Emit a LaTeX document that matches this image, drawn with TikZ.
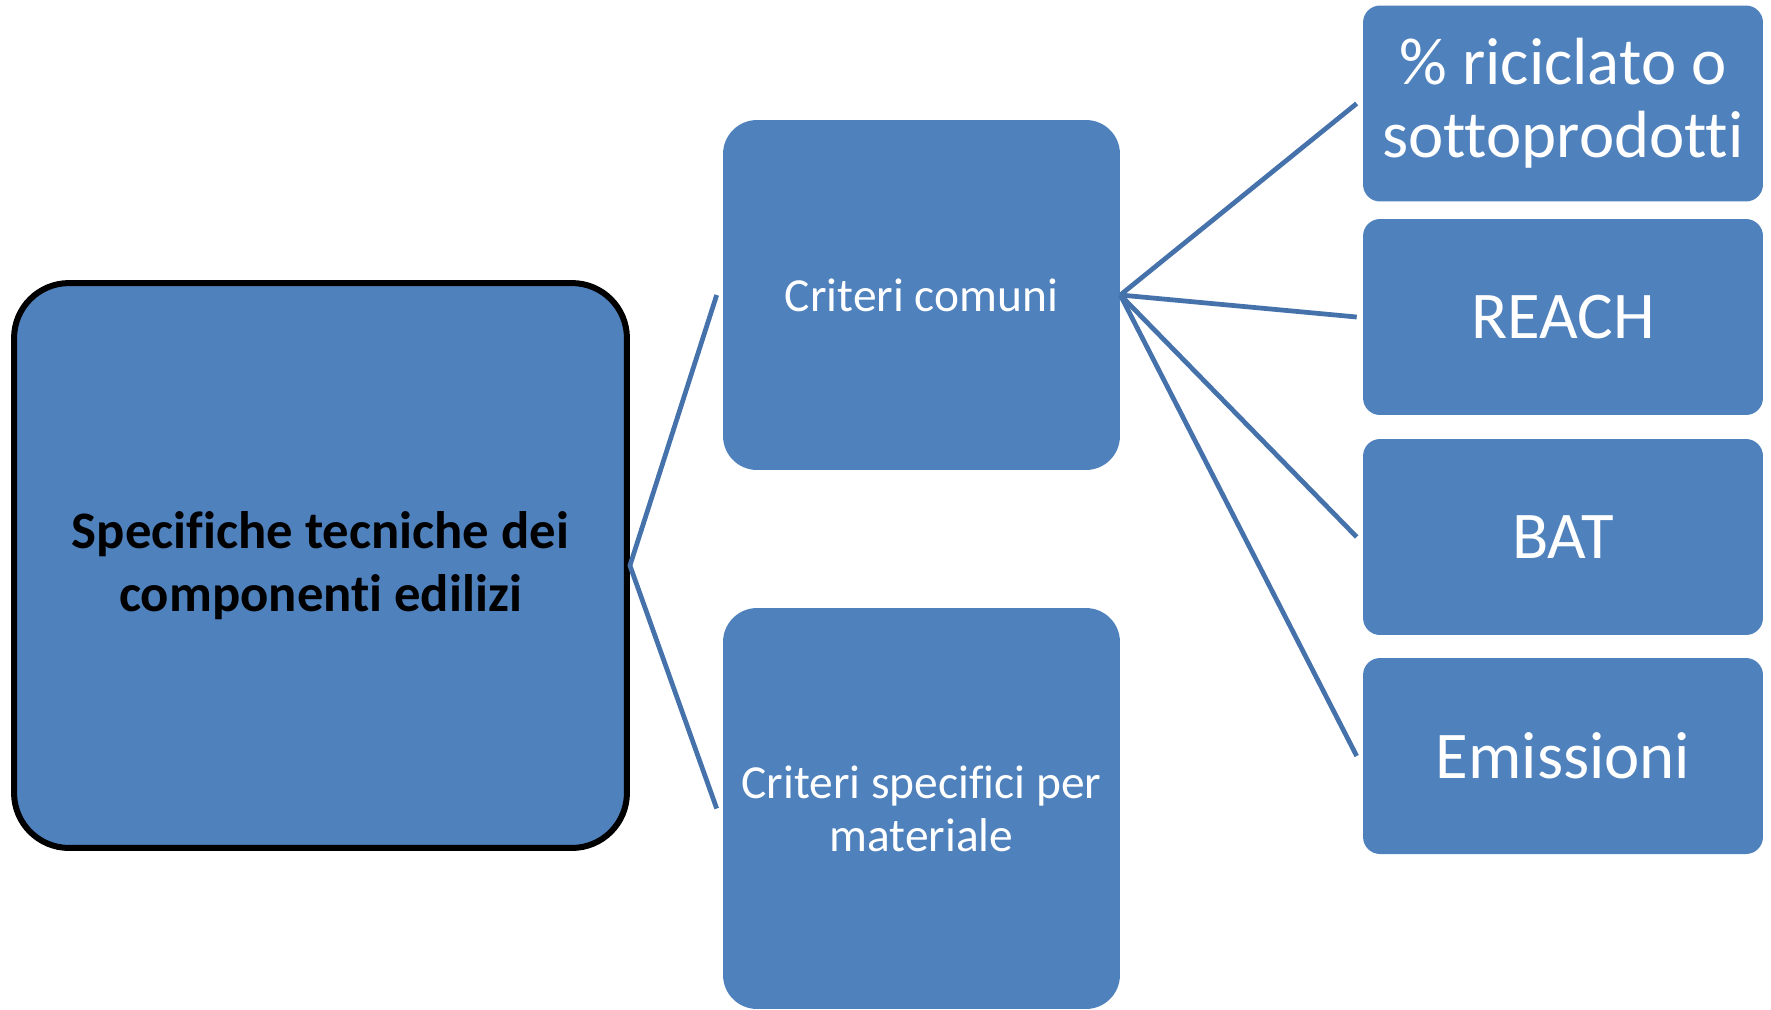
\documentclass[tikz,border=0pt]{standalone}
\usepackage{fontspec}
\setmainfont{Carlito}[Ligatures={NoCommon}]
\definecolor{boxblue}{HTML}{4F81BD}
\definecolor{lineblue}{HTML}{4672AB}
\begin{document}
\begin{tikzpicture}[x=0.02cm,y=-0.02cm,
  box/.style={rectangle,fill=boxblue,inner sep=0pt,align=center,text=white},
  conn/.style={draw=lineblue,line width=0.095cm}]
\useasboundingbox (0,0) rectangle (1771,1009);
\node[box,draw=black,line width=0.12cm,rounded corners=1.1cm,minimum width=12.26cm,minimum height=11.3cm,text=black,
  font=\fontsize{30}{36}\selectfont\bfseries] (main) at (320.5,565.5) {Specifiche tecniche dei\\componenti edilizi};
\node[box,rounded corners=0.68cm,minimum width=7.94cm,minimum height=7cm,
  font=\fontsize{27}{30}\selectfont] (cc) at (921.5,295) {Criteri comuni};
\node[box,rounded corners=0.68cm,minimum width=7.94cm,minimum height=8.02cm,
  font=\fontsize{27}{30}\selectfont] (cs) at (921.5,808.5) {Criteri specifici per\\materiale};
\tikzset{rbox/.style={box,rounded corners=0.34cm,minimum width=8cm,minimum height=3.92cm,
  font=\fontsize{38}{41.5}\selectfont}}
\node[rbox] (r1) at (1563,103.5) {\% riciclato o\\sottoprodotti};
\node[rbox] (r2) at (1563,317) {REACH};
\node[rbox] (r3) at (1563,537) {BAT};
\node[rbox] (r4) at (1563,756) {Emissioni};
\draw[conn] ([xshift=-0.12cm]cc.west) -- (main.east) -- ([xshift=-0.12cm]cs.west);
\draw[conn] (cc.east) -- ([xshift=-0.12cm]r1.west);
\draw[conn] (cc.east) -- ([xshift=-0.12cm]r2.west);
\draw[conn] (cc.east) -- ([xshift=-0.12cm]r3.west);
\draw[conn] (cc.east) -- ([xshift=-0.12cm]r4.west);
\end{tikzpicture}
\end{document}
